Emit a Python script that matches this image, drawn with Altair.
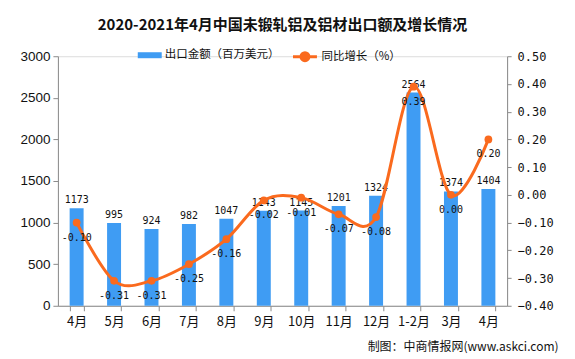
import altair as alt
import pandas as pd

months = ["4月", "5月", "6月", "7月", "8月", "9月", "10月", "11月", "12月", "1-2月", "3月", "4月 "]
export_value = [1173, 995, 924, 982, 1047, 1143, 1145, 1201, 1324, 2564, 1374, 1404]
growth = [-0.10, -0.31, -0.31, -0.25, -0.16, -0.02, -0.01, -0.07, -0.08, 0.39, 0.00, 0.20]

bar_name = "出口金额（百万美元）"
line_name = "同比增长（%）"
BLUE = "#3F9CF3"
ORANGE = "#FA6A1E"
AXIS_GRAY = "#8C8C8C"
CJK = "Noto Sans CJK SC"

df = pd.DataFrame({
    "month": months,
    "value": export_value,
    "growth": growth,
    "vlabel": [str(v) for v in export_value],
    "glabel": [f"{g:.2f}" for g in growth],
})

x_enc = alt.X(
    "month:N", sort=months, title="制图：中商情报网(www.askci.com)",
    scale=alt.Scale(paddingInner=0.627, paddingOuter=0.3135),
    axis=alt.Axis(
        titleFont=CJK, titleFontSize=12,
        titleFontWeight="normal", titleColor="#111111",
        titleAnchor="end", titleAlign="right", titleX=501, titleY=41, titleBaseline="middle",
        labelAngle=0, labelFont=CJK, labelFontSize=13, labelColor="#111111",
        labelPadding=5, tickBand="extent", tickSize=5, tickColor=AXIS_GRAY,
        domain=True, ticks=True, domainColor=AXIS_GRAY, grid=False,
    ),
)

y_left = alt.Y(
    "value:Q", title=None,
    scale=alt.Scale(domain=[0, 3000], nice=False),
    axis=alt.Axis(
        values=[0, 500, 1000, 1500, 2000, 2500, 3000], orient="left", format="d",
        labelFont="Liberation Sans", labelFontSize=13.5, labelColor="#111111",
        tickSize=5, labelPadding=3, tickColor=AXIS_GRAY, domainColor=AXIS_GRAY,
        domain=True, ticks=True, grid=False,
    ),
)

right_vals = [-0.4, -0.3, -0.2, -0.1, 0.0, 0.1, 0.2, 0.3, 0.4, 0.5]
y_right = alt.Y(
    "growth:Q", title=None,
    scale=alt.Scale(domain=[-0.4, 0.5], nice=False),
    axis=alt.Axis(
        values=right_vals, orient="right", format=".2f",
        labelFont="DejaVu Sans Mono", labelFontSize=12, labelColor="#111111",
        tickSize=4, labelPadding=6, tickColor=AXIS_GRAY, domainColor=AXIS_GRAY,
        domain=True, ticks=True, grid=False,
    ),
)

base = alt.Chart(df)

bars = base.mark_bar().encode(
    x=x_enc,
    y=y_left,
    fill=alt.Fill(
        "bar_series:N",
        scale=alt.Scale(domain=[bar_name], range=[BLUE]),
        legend=alt.Legend(
            title=None, orient="none", legendX=80, legendY=-13, direction="horizontal",
            symbolType="M-1,-0.25H1V0.25H-1Z", symbolSize=576, symbolStrokeWidth=0,
            labelFont=CJK, labelFontSize=11.5, labelColor="#111111", labelOffset=3,
        ),
    ),
).transform_calculate(bar_series=f"'{bar_name}'")

bar_text = base.mark_text(
    baseline="bottom", dy=-3, font="DejaVu Sans Mono", fontSize=10, color="#111111"
).encode(
    x=x_enc,
    y=y_left,
    text="vlabel:N",
)

left_layer = alt.layer(bars, bar_text)

line = base.mark_line(interpolate="cardinal", strokeWidth=3).encode(
    x=x_enc,
    y=y_right,
    stroke=alt.Stroke(
        "line_series:N",
        scale=alt.Scale(domain=[line_name], range=[ORANGE]),
        legend=alt.Legend(
            title=None, orient="none", legendX=234, legendY=-13, direction="horizontal",
            symbolType="M-1,0H1M0.33,0A0.33,0.33,0,1,1,-0.33,0A0.33,0.33,0,1,1,0.33,0Z",
            symbolSize=576, symbolStrokeWidth=3, symbolFillColor=ORANGE,
            labelFont=CJK, labelFontSize=11.5, labelColor="#111111", labelOffset=3,
        ),
    ),
).transform_calculate(line_series=f"'{line_name}'")

points = base.mark_circle(size=60, color=ORANGE, opacity=1).encode(
    x=x_enc,
    y=y_right,
)

growth_text = base.mark_text(
    baseline="middle", dy=15, font="DejaVu Sans Mono", fontSize=10, color="#111111"
).encode(
    x=x_enc,
    y=y_right,
    text="glabel:N",
)

right_layer = alt.layer(line, points, growth_text)

chart = alt.layer(left_layer, right_layer).resolve_scale(
    y="independent", fill="independent", stroke="independent"
).properties(
    width=450,
    height=250,
    title=alt.TitleParams(
        "2020-2021年4月中国未锻轧铝及铝材出口额及增长情况",
        font=CJK, fontSize=15, fontWeight="bold", color="#111111",
        anchor="middle", offset=10,
    ),
    autosize=alt.AutoSizeParams(type="none"),
    padding={"left": 50, "top": 48, "right": 60, "bottom": 52},
).configure_view(stroke=None).configure(background="white")

chart.save("out.html", embed_options={"renderer": "svg", "actions": False})
